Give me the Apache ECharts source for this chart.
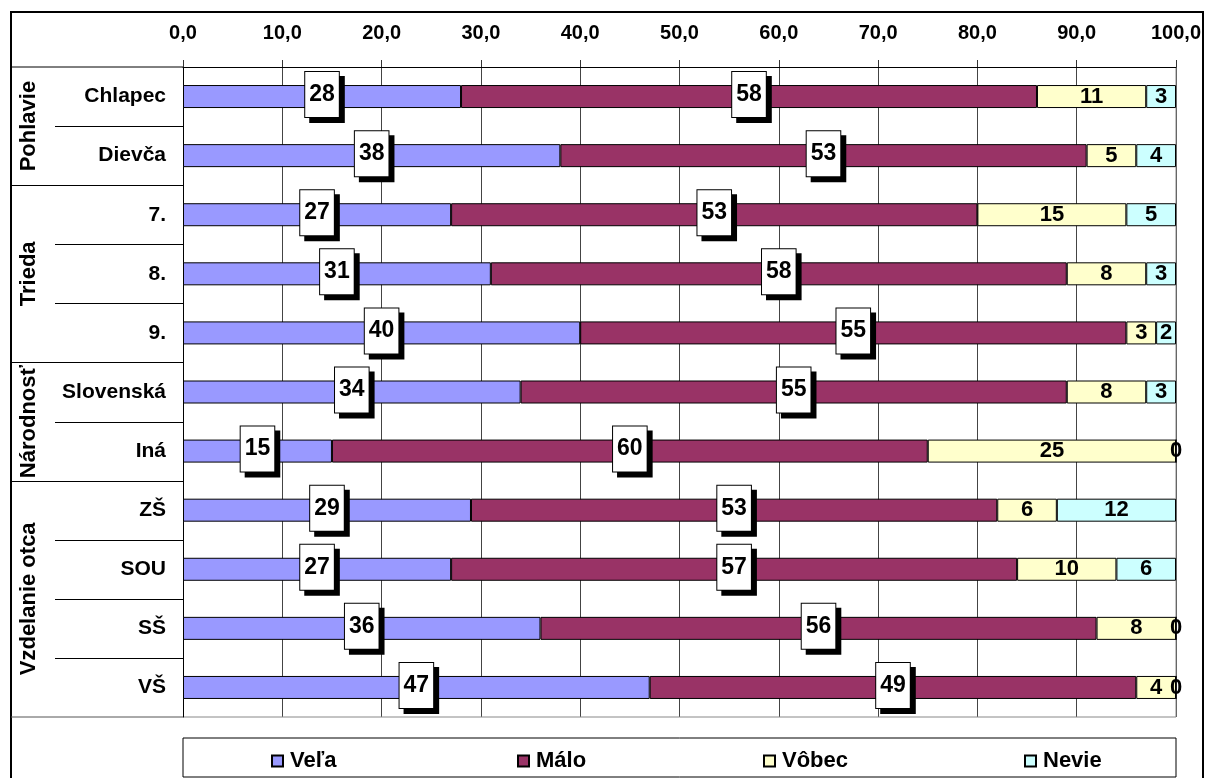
<!DOCTYPE html>
<html>
<head>
<meta charset="utf-8">
<script src="https://cdn.jsdelivr.net/npm/echarts@6/dist/echarts.min.js"></script>
<style>
html,body{margin:0;padding:0;background:#fff;}
#chart{width:1205px;height:778px;}
</style>
</head>
<body>
<div id="chart"></div>
<script>
const categories = ['Chlapec', 'Dievča', '7.', '8.', '9.', 'Slovenská', 'Iná', 'ZŠ', 'SOU', 'SŠ', 'VŠ'];
const groups = [
  { name: 'Pohlavie', first: 'Chlapec', last: 'Dievča' },
  { name: 'Trieda', first: '7.', last: '9.' },
  { name: 'Národnosť', first: 'Slovenská', last: 'Iná' },
  { name: 'Vzdelanie otca', first: 'ZŠ', last: 'VŠ' }
];
const seriesNames = ['Veľa', 'Málo', 'Vôbec', 'Nevie'];
const vela  = [28, 38, 27, 31, 40, 34, 15, 29, 27, 36, 47];
const malo  = [58, 53, 53, 58, 55, 55, 60, 53, 57, 56, 49];
const vobec = [11, 5, 15, 8, 3, 8, 25, 6, 10, 8, 4];
const nevie = [3, 4, 5, 3, 2, 3, 0, 12, 6, 0, 0];
const xTicks = { min: 0, max: 100, interval: 10 };

const FONT = '"Liberation Sans", Arial, sans-serif';
const colors = ['#9999FF', '#993366', '#FFFFCC', '#CCFFFF'];
const values = [vela, malo, vobec, nevie];

const chart = echarts.init(document.getElementById('chart'), null, { renderer: 'canvas' });

const boxLabel = {
  show: true,
  position: 'inside',
  offset: [0, -2],
  color: '#000',
  fontFamily: FONT,
  fontWeight: 'bold',
  fontSize: 23,
  backgroundColor: '#fff',
  borderColor: '#000',
  borderWidth: 1,
  padding: [12, 4, 10, 4],
  shadowColor: '#000',
  shadowBlur: 0,
  shadowOffsetX: 5,
  shadowOffsetY: 5
};
const plainLabel = {
  show: true,
  position: 'inside',
  color: '#000',
  fontFamily: FONT,
  fontWeight: 'bold',
  fontSize: 22
};

const series = seriesNames.map((name, i) => ({
  name: name,
  type: 'bar',
  stack: 'total',
  barWidth: 23,
  data: values[i],
  itemStyle: { color: colors[i], borderColor: '#000', borderWidth: 1 },
  label: i < 2 ? boxLabel : plainLabel,
  emphasis: { disabled: true },
  z: i < 2 ? 3 : 2
}));

const legendLefts = [271, 517, 763, 1024];
const legends = seriesNames.map((name, i) => ({
  data: [name],
  left: legendLefts[i],
  top: 750,
  icon: 'rect',
  itemWidth: 11,
  itemHeight: 11,
  padding: 0,
  selectedMode: false,
  textStyle: { fontFamily: FONT, fontWeight: 'bold', fontSize: 22, color: '#000', padding: [0, 0, 0, 2] }
}));

chart.setOption({
  animation: false,
  backgroundColor: '#fff',
  grid: { left: 183, right: 29, top: 67, bottom: 61, containLabel: false, show: false },
  legend: legends,
  xAxis: {
    type: 'value',
    position: 'top',
    min: xTicks.min,
    max: xTicks.max,
    interval: xTicks.interval,
    axisLine: { show: true, lineStyle: { color: '#000', width: 1 } },
    axisTick: { show: true, inside: false, length: 7, lineStyle: { color: '#333' } },
    axisLabel: {
      margin: 24,
      color: '#000',
      fontFamily: FONT,
      fontWeight: 'bold',
      fontSize: 20,
      formatter: v => v.toFixed(1).replace('.', ',')
    },
    splitLine: { show: true, lineStyle: { color: '#444', width: 1 } }
  },
  yAxis: {
    type: 'category',
    data: categories,
    inverse: true,
    axisLine: { show: true, lineStyle: { color: '#000', width: 1 } },
    axisTick: { show: false },
    axisLabel: {
      margin: 17,
      color: '#000',
      fontFamily: FONT,
      fontWeight: 'bold',
      fontSize: 21
    },
    splitLine: { show: false }
  },
  series: series
});

function drawDecor() {
  const c0 = chart.convertToPixel({ yAxisIndex: 0 }, categories[0]);
  const c1 = chart.convertToPixel({ yAxisIndex: 0 }, categories[1]);
  const band = c1 - c0;
  const xLeft = chart.convertToPixel({ xAxisIndex: 0 }, xTicks.min);
  const xRight = chart.convertToPixel({ xAxisIndex: 0 }, xTicks.max);
  const top = c0 - band / 2;
  const bottom = chart.convertToPixel({ yAxisIndex: 0 }, categories[categories.length - 1]) + band / 2;
  const frameL = 11, frameT = 12, frameR = 1203;
  const els = [];
  els.push({ type: 'rect', shape: { x: frameL, y: frameT, width: frameR - frameL, height: 800 },
    style: { fill: 'none', stroke: '#000', lineWidth: 2 }, z: 0, silent: true });
  els.push({ type: 'line', shape: { x1: xRight, y1: top, x2: xRight, y2: bottom }, style: { stroke: '#888', lineWidth: 1 }, silent: true });
  els.push({ type: 'line', shape: { x1: xLeft, y1: bottom, x2: xRight, y2: bottom }, style: { stroke: '#888', lineWidth: 1 }, silent: true });
  els.push({ type: 'line', shape: { x1: frameL, y1: top, x2: xLeft, y2: top }, style: { stroke: '#000', lineWidth: 1 }, silent: true });
  els.push({ type: 'line', shape: { x1: frameL, y1: bottom, x2: xLeft, y2: bottom }, style: { stroke: '#555', lineWidth: 1 }, silent: true });
  const groupEnds = new Set(groups.map(g => g.last));
  categories.forEach((cat, i) => {
    if (i === categories.length - 1) return;
    const y = Math.round(chart.convertToPixel({ yAxisIndex: 0 }, cat) + band / 2) + 0.5;
    const x1 = groupEnds.has(cat) ? frameL : 55;
    els.push({ type: 'line', shape: { x1: x1, y1: y, x2: xLeft, y2: y }, style: { stroke: '#000', lineWidth: 1 }, silent: true });
  });
  groups.forEach(g => {
    const y1 = chart.convertToPixel({ yAxisIndex: 0 }, g.first) - band / 2;
    const y2 = chart.convertToPixel({ yAxisIndex: 0 }, g.last) + band / 2;
    els.push({
      type: 'text', x: 29, y: (y1 + y2) / 2, rotation: Math.PI / 2,
      style: { text: g.name, fontFamily: FONT, fontWeight: 'bold', fontSize: 22, fill: '#000', align: 'center', verticalAlign: 'middle' },
      silent: true
    });
  });
  els.push({ type: 'rect', shape: { x: xLeft, y: 738, width: xRight - xLeft, height: 39 },
    style: { fill: 'none', stroke: '#000', lineWidth: 1 }, silent: true });
  chart.setOption({ graphic: { elements: els } });
}
drawDecor();
</script>
</body>
</html>
